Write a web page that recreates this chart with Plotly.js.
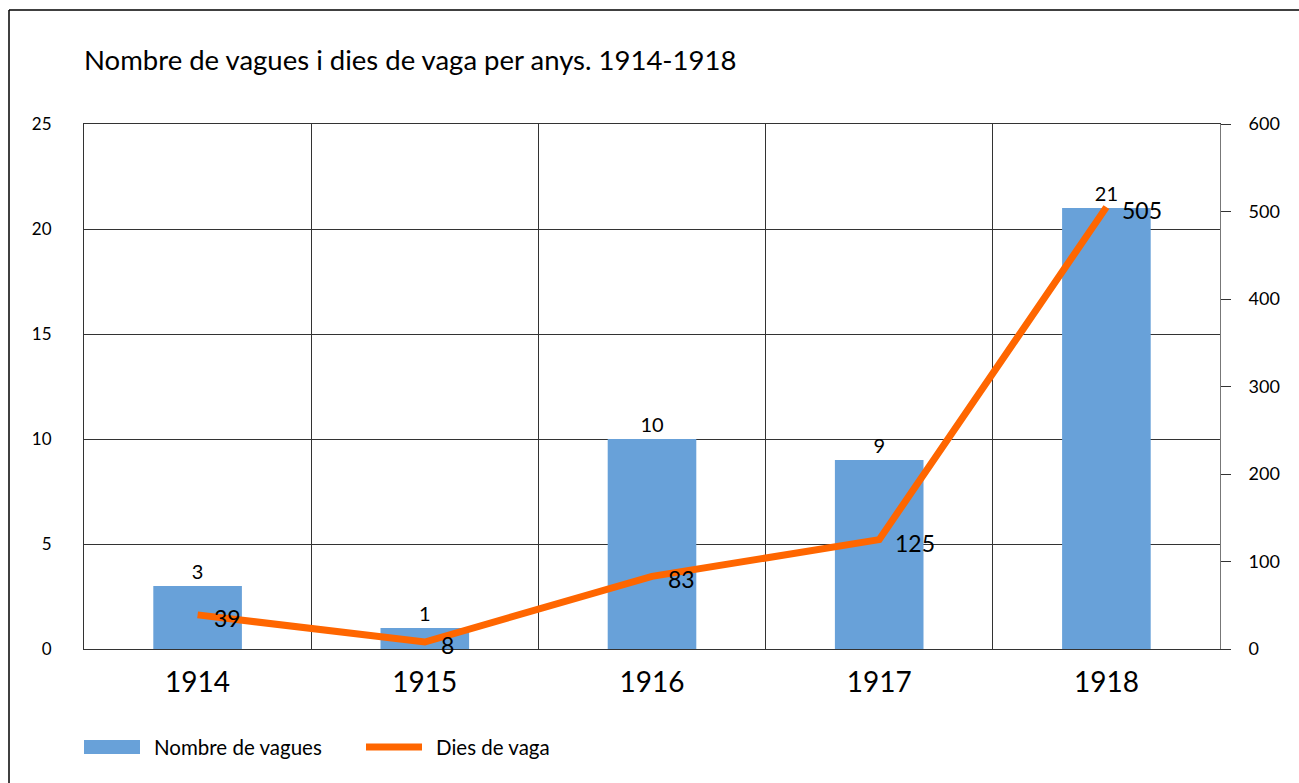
<!DOCTYPE html>
<html>
<head>
<meta charset="utf-8">
<script src="https://cdn.plot.ly/plotly-3.0.1.min.js"></script>
<style>html,body{margin:0;padding:0;background:#fff;}#chart{width:1299px;height:783px;}</style>
</head>
<body>
<div id="chart"></div>
<script>
const years = ['1914', '1915', '1916', '1917', '1918'];
const strikes = [3, 1, 10, 9, 21];
const strikeDays = [39, 8, 83, 125, 505];
const leftTicks = [0, 5, 10, 15, 20, 25];
const rightTicks = [0, 100, 200, 300, 400, 500, 600];
const seriesNames = ['Nombre de vagues', 'Dies de vaga'];

const FONT = 'Lato, "Open Sans", sans-serif';
const BAR_COLOR = '#68a1d9';
const LINE_COLOR = '#ff6600';

const traces = [
  {
    type: 'bar',
    name: seriesNames[0],
    x: years,
    y: strikes,
    width: 0.39,
    marker: {color: BAR_COLOR},
    text: strikes.map(String),
    textposition: 'outside',
    cliponaxis: false,
    textfont: {family: FONT, size: 20, color: '#000'},
    yaxis: 'y',
    showlegend: false
  },
  {
    type: 'scatter',
    mode: 'lines',
    name: seriesNames[1],
    x: years,
    y: strikeDays,
    line: {color: LINE_COLOR, width: 7},
    cliponaxis: false,
    yaxis: 'y2',
    showlegend: false
  }
];

// data labels for the line, placed to the right of each point
const lineLabels = years.map((yr, i) => ({
  x: i, y: strikeDays[i], xref: 'x', yref: 'y2',
  text: String(strikeDays[i]),
  showarrow: false,
  xanchor: 'left', yanchor: 'middle',
  xshift: 14, yshift: -3,
  font: {family: FONT, size: 23, color: '#000'}
}));

const W = 1299, H = 783;
const plotL = 84, plotR = W - 79, plotT = 124, plotB = H - 134;
// pixel -> plot-area paper fraction
const fx = v => (v - plotL) / (plotR - plotL);
const fy = v => (plotB - v) / (plotB - plotT);

// manual legend (wide swatches like the reference)
const legendTexts = [
  {x: fx(152), y: fy(747), text: seriesNames[0]},
  {x: fx(434), y: fy(747), text: seriesNames[1]}
].map(a => Object.assign(a, {
  xref: 'paper', yref: 'paper',
  showarrow: false, xanchor: 'left', yanchor: 'middle',
  font: {family: FONT, size: 20.5, color: '#000'}
}));

const layout = {
  width: W,
  height: H,
  margin: {l: 84, r: 79, t: 124, b: 134},
  paper_bgcolor: '#fff',
  plot_bgcolor: '#fff',
  font: {family: FONT, color: '#000'},
  showlegend: false,
  title: {
    text: 'Nombre de vagues i dies de vaga per anys. 1914-1918',
    x: 84 / W, xanchor: 'left', xref: 'container',
    y: 1 - 60 / H, yanchor: 'middle', yref: 'container',
    font: {family: FONT, size: 27.5, color: '#000'}
  },
  xaxis: {
    type: 'category',
    categoryorder: 'array',
    categoryarray: years,
    range: [-0.5, 4.5],
    autorange: false,
    tickson: 'boundaries',
    showgrid: true,
    gridcolor: '#333',
    gridwidth: 1,
    ticks: '',
    showline: true,
    mirror: true,
    linecolor: '#333',
    linewidth: 1,
    tickfont: {family: FONT, size: 28, color: '#000'},
    ticklabelstandoff: 8
  },
  yaxis: {
    range: [0, 25],
    autorange: false,
    tickvals: leftTicks,
    ticktext: leftTicks.map(String),
    showgrid: true,
    gridcolor: '#333',
    gridwidth: 1,
    zeroline: false,
    showline: true,
    linecolor: '#333',
    linewidth: 1,
    ticks: '',
    tickfont: {family: FONT, size: 17, color: '#000'},
    ticklabelstandoff: 28
  },
  yaxis2: {
    overlaying: 'y',
    side: 'right',
    range: [0, 600],
    autorange: false,
    tickvals: rightTicks,
    ticktext: rightTicks.map(String),
    showgrid: false,
    zeroline: false,
    showline: true,
    linecolor: '#777',
    linewidth: 1,
    ticks: 'outside',
    ticklen: 10,
    tickcolor: '#333',
    tickfont: {family: FONT, size: 18, color: '#000'},
    ticklabelstandoff: 14
  },
  annotations: lineLabels.concat(legendTexts),
  shapes: [
    // outer frame (top and left edges visible)
    {x0: fx(9), x1: fx(1299), y0: fy(10), y1: fy(10), type: 'line', line: {color: '#000', width: 1.5}},
    {x0: fx(9), x1: fx(9), y0: fy(10), y1: fy(783), type: 'line', line: {color: '#000', width: 1.5}},
    // legend swatches
    {x0: fx(84), x1: fx(140), y0: fy(740), y1: fy(754), type: 'rect', fillcolor: BAR_COLOR, line: {width: 0}},
    {x0: fx(366), x1: fx(422), y0: fy(747), y1: fy(747), type: 'line', line: {color: LINE_COLOR, width: 7}}
  ].map(s => Object.assign(s, {xref: 'paper', yref: 'paper'}))
};

Plotly.newPlot('chart', traces, layout, {displayModeBar: false, responsive: false});
</script>
</body>
</html>
